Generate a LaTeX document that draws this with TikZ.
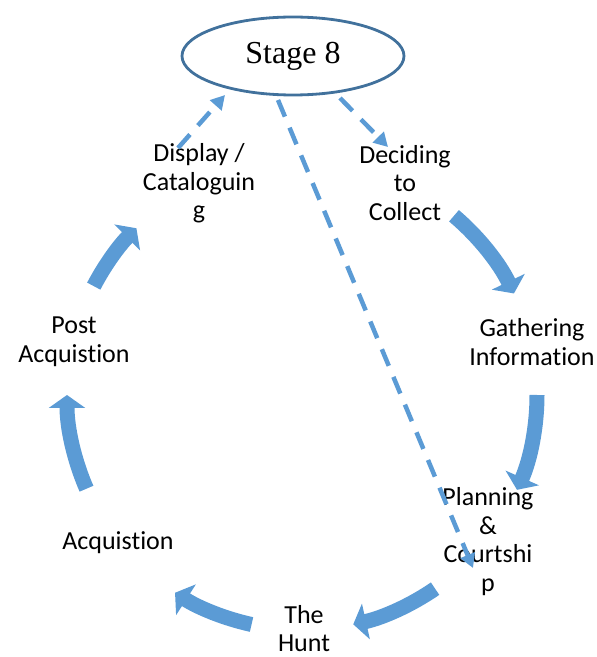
\documentclass[tikz,border=0pt]{standalone}
\usepackage{fontspec}
\setmainfont{Carlito}[Ligatures=NoCommon]
\newfontfamily\stagefont{Liberation Serif}
\usetikzlibrary{shapes.geometric,arrows.meta}
\definecolor{accblue}{HTML}{5B9BD5}
\definecolor{darkblue}{HTML}{41719C}
\tikzset{
  lbl/.style={align=center,inner sep=0pt,font=\fontsize{26}{28.7}\selectfont},
  stagebox/.style={ellipse,draw=darkblue,line width=2.8pt,minimum width=222pt,minimum height=78pt,inner sep=0pt,font=\stagefont\fontsize{32}{36}\selectfont},
  blockarrow/.style={draw=accblue,line width=15pt,line cap=butt,-{Triangle[width=36pt,length=13pt]}},
  dasharrow/.style={draw=accblue,line width=4.5pt,dash pattern=on 18pt off 12pt,-{Triangle[width=15pt,length=14pt]}}
}
\begin{document}
\begin{tikzpicture}[x=1pt,y=1pt]
\useasboundingbox (0,0) rectangle (597,657);
\node[stagebox] (st) at (293,601) {Stage 8};
\node[lbl] (disp) at (199,473.5) {Display /\\Cataloguin\\g};
\node[lbl] (dec) at (405,474) {Deciding\\to\\Collect};
\node[lbl] (gath) at (532,315) {Gathering\\Information};
\node[lbl] (plan) at (488,115.5) {Planning\\\&\\Courtshi\\p};
\node[lbl] (hunt) at (304,28.5) {The\\Hunt};
\node[lbl] (acq) at (118,114) {Acquistion};
\node[lbl] (post) at (74,315) {Post\\Acquistion};
\coordinate (c) at (302,262);
% block arrows around the cycle
\draw[blockarrow] (c) ++(49.7:235) arc[start angle=49.7,end angle=25.6,radius=235];
\draw[blockarrow] (c) ++(0:235) arc[start angle=0,end angle=-23.8,radius=235];
\draw[blockarrow] (c) ++(-55.5:235) arc[start angle=-55.5,end angle=-77.4,radius=235];
\draw[blockarrow] (c) ++(-102.4:235) arc[start angle=-102.4,end angle=-122.7,radius=235];
\draw[blockarrow] (c) ++(203.5:235) arc[start angle=203.5,end angle=180,radius=235];
\draw[blockarrow] (c) ++(152.4:235) arc[start angle=152.4,end angle=134.8,radius=235];
% dashed connectors
\draw[dasharrow] ([shift={(-21,35.5)}]disp.center) -- ([shift={(-68,-39)}]st.center);
\draw[dasharrow] ([shift={(47,-42)}]st.center) -- ([shift={(-17,36)}]dec.center);
\draw[dasharrow] ([shift={(-15,-44)}]st.center) -- ([shift={(-15,-26.5)}]plan.center);
\end{tikzpicture}
\end{document}
